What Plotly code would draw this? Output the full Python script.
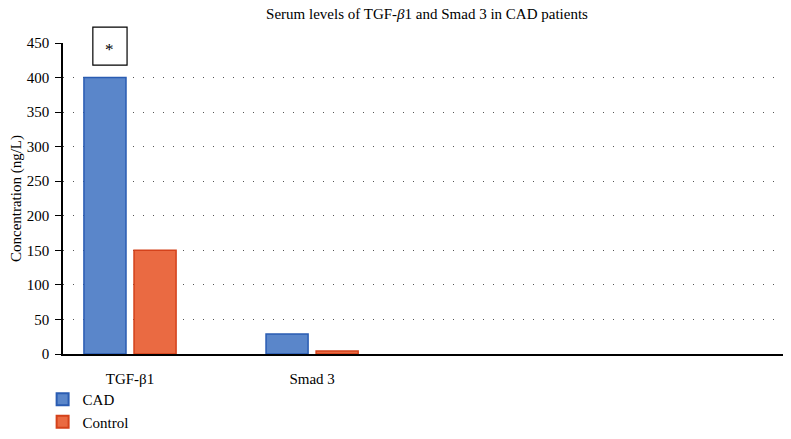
import plotly.graph_objects as go

categories = ["TGF-β1", "Smad 3"]
cad_values = [400, 29]
control_values = [150, 4.5]
y_ticks = [0, 50, 100, 150, 200, 250, 300, 350, 400, 450]

font_family = "Times New Roman, Liberation Serif, DejaVu Serif, serif"

fig = go.Figure()
fig.add_trace(go.Bar(
    x=categories, y=cad_values, name="CAD",
    marker=dict(color="#5A86CA", line=dict(color="#2A5CB2", width=1.5)),
))
fig.add_trace(go.Bar(
    x=categories, y=control_values, name="Control",
    marker=dict(color="#EA6A42", line=dict(color="#D4421B", width=1.5)),
))

# significance box with asterisk (paper coords so it is not clipped)
fig.add_shape(type="rect", xref="paper", yref="paper",
              x0=0.041, x1=0.088, y0=418 / 450, y1=473 / 450,
              line=dict(color="black", width=1.2), fillcolor="white")
fig.add_annotation(x=0.0645, y=440 / 450, xref="paper", yref="paper", text="*",
                   xanchor="center", yanchor="middle",
                   showarrow=False, font=dict(size=17, color="black", family=font_family))

# the page body adds an 8px offset, so the figure is 8px smaller
fig.update_layout(
    width=783, height=431,
    margin=dict(l=55, r=0, t=35, b=85),
    paper_bgcolor="white", plot_bgcolor="white",
    font=dict(family=font_family, size=15, color="black"),
    title=dict(text="Serum levels of TGF-<i>β</i>1 and Smad 3 in CAD patients",
               xref="paper", yref="container", x=0.5, xanchor="center",
               y=1, yanchor="top", pad=dict(t=0, b=0),
               font=dict(size=15, family=font_family, color="black")),
    barmode="group", bargap=0.45, bargroupgap=0.16,
    showlegend=True,
    legend=dict(x=-0.028, y=-0.27, xanchor="left", yanchor="bottom",
                orientation="v", font=dict(size=15, family=font_family),
                itemsizing="constant", tracegroupgap=5,
                bgcolor="rgba(0,0,0,0)"),
)

fig.update_xaxes(
    type="category", range=[-0.368, 3.63],
    showline=True, linecolor="black", linewidth=1.5,
    ticks="", showgrid=False, tickfont=dict(size=15, family=font_family),
    ticklabelstandoff=10, automargin=False,
)
fig.update_yaxes(
    range=[0, 450], tickvals=y_ticks,
    showline=True, linecolor="black", linewidth=1.5,
    ticks="outside", ticklen=6, tickcolor="black", tickwidth=1.2,
    showgrid=True, gridcolor="#555555", gridwidth=1, griddash="1px,9px",
    zeroline=False, automargin=False, ticklabelstandoff=3,
    title=dict(text="Concentration (ng/L)", font=dict(size=15, family=font_family), standoff=12),
    tickfont=dict(size=15, family=font_family),
)

fig.write_html("out.html")
